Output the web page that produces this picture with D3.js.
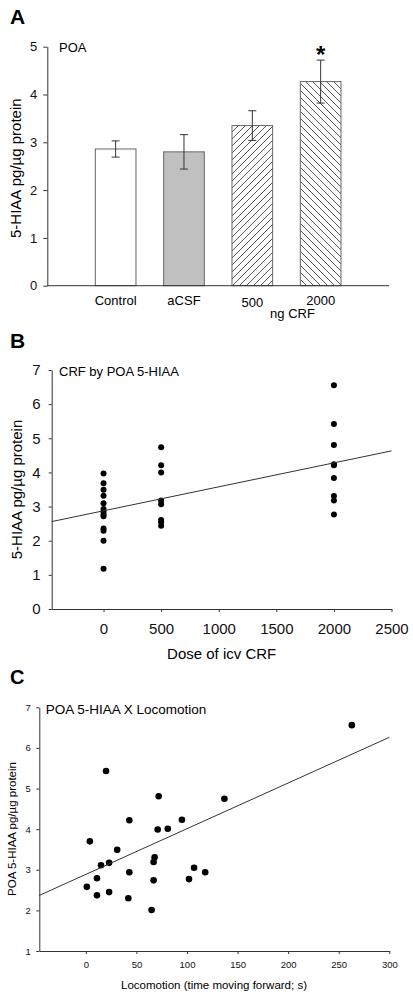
<!DOCTYPE html>
<html><head><meta charset="utf-8">
<script src="https://cdn.jsdelivr.net/npm/d3@7"></script>
<style>
body{margin:0;background:#fff;}
svg{display:block;font-family:"Liberation Sans",Arial,sans-serif;}
</style></head>
<body>
<script>
// ---------- Panel A data ----------
const categoriesA = ["Control", "aCSF", "500", "2000"];
const meansA = [2.86, 2.80, 3.35, 4.27];
const semA = [0.17, 0.36, 0.31, 0.45];
const yTicksA = [0, 1, 2, 3, 4, 5];
// ---------- Panel B data ----------
const doseB = [0,0,0,0,0,0,0,0,0,0,0,0,0, 500,500,500,500,500,500,500,500, 2000,2000,2000,2000,2000,2000,2000,2000,2000];
const hiaaB = [3.97,3.68,3.49,3.32,3.10,2.93,2.85,2.77,2.72,2.36,2.29,2.00,1.18, 4.74,4.21,4.00,3.18,3.07,2.61,2.54,2.44, 6.55,5.42,4.80,4.24,4.21,3.84,3.31,3.18,2.77];
const fitB = [2.876, 0.000702]; // intercept, slope
const xTicksB = [0, 500, 1000, 1500, 2000, 2500];
const yTicksB = [0, 1, 2, 3, 4, 5, 6, 7];
// ---------- Panel C data ----------
const locoC = [263, 20, 72, 137, 43, 95, 71, 81, 4, 31, 68, 67, 23, 15, 107, 43, 118, 11, 67, 102, 1, 23, 11, 42, 65];
const hiaaC = [6.56, 5.43, 4.81, 4.75, 4.22, 4.23, 3.99, 4.01, 3.70, 3.49, 3.31, 3.19, 3.17, 3.11, 3.05, 2.94, 2.94, 2.79, 2.74, 2.77, 2.58, 2.45, 2.37, 2.30, 2.01];
const fitC = [2.886, 0.01125];
const xTicksC = [0, 50, 100, 150, 200, 250, 300];
const yTicksC = [1, 2, 3, 4, 5, 6, 7];

const W = 413, H = 1000;
const svg = d3.select("body").append("svg").attr("width", W).attr("height", H);
const axisColor = "#333";
const fmt = d3.format("d");

const defs = svg.append("defs");
function hatch(id, dir) {
  const p = defs.append("pattern").attr("id", id).attr("patternUnits", "userSpaceOnUse")
    .attr("width", 7).attr("height", 7);
  p.append("rect").attr("width", 7).attr("height", 7).attr("fill", "#fff");
  const d = dir > 0 ? "M0,7 L7,0 M-1,1 L1,-1 M6,8 L8,6" : "M0,0 L7,7 M-1,6 L1,8 M6,-1 L8,1";
  p.append("path").attr("d", d).attr("stroke", "#444").attr("stroke-width", 0.9);
}
hatch("hatchF", 1);
hatch("hatchB", -1);

function styleAxis(g, fs) {
  g.attr("font-family", null).attr("font-size", null);
  g.selectAll("path.domain").attr("stroke", axisColor);
  g.selectAll(".tick line").attr("stroke", axisColor);
  g.selectAll(".tick text").attr("fill", "#111").attr("font-size", fs);
}

// ================= Panel A =================
{
  const x = d3.scaleLinear().domain([0, 5]).range([47.3, 389]);
  const y = d3.scaleLinear().domain([0, 5]).range([285.7, 46.7]);
  const g = svg.append("g");
  g.append("text").attr("x", 10).attr("y", 24).attr("font-size", 21).attr("font-weight", "bold").text("A");
  const fills = ["#fff", "#c0c0c0", "url(#hatchF)", "url(#hatchB)"];
  const bw = x(0.595) - x(0);
  g.selectAll("rect.bar").data(meansA).join("rect").attr("class", "bar")
    .attr("x", (d, i) => x(i + 1) - bw / 2).attr("width", bw)
    .attr("y", d => y(d)).attr("height", d => y(0) - y(d))
    .attr("fill", (d, i) => fills[i]).attr("stroke", "#666").attr("stroke-width", 1);
  // error bars
  const eb = g.selectAll("g.eb").data(meansA).join("g").attr("class", "eb");
  eb.append("line").attr("x1", (d, i) => x(i + 1)).attr("x2", (d, i) => x(i + 1))
    .attr("y1", (d, i) => y(d + semA[i])).attr("y2", (d, i) => y(d - semA[i]))
    .attr("stroke", "#333");
  [1, -1].forEach(s => {
    eb.append("line").attr("x1", (d, i) => x(i + 1) - 4).attr("x2", (d, i) => x(i + 1) + 4)
      .attr("y1", (d, i) => y(d + s * semA[i])).attr("y2", (d, i) => y(d + s * semA[i]))
      .attr("stroke", "#333");
  });
  // axes
  const ya = g.append("g").attr("transform", `translate(${x(0)},0)`)
    .call(d3.axisLeft(y).tickValues(yTicksA).tickFormat(fmt).tickSize(4).tickPadding(6).tickSizeOuter(0));
  styleAxis(ya, 13);
  g.append("line").attr("x1", x(0)).attr("x2", x(5)).attr("y1", y(0)).attr("y2", y(0)).attr("stroke", axisColor);
  // category labels
  const labY = [305, 305, 306.7, 305];
  g.selectAll("text.cat").data(categoriesA).join("text").attr("class", "cat")
    .attr("x", (d, i) => x(i + 1)).attr("y", (d, i) => labY[i])
    .attr("text-anchor", "middle").attr("font-size", 13).text(d => d);
  g.append("text").attr("x", (x(3) + x(4)) / 2 + 6).attr("y", 318).attr("text-anchor", "middle")
    .attr("font-size", 13).text("ng CRF");
  g.append("text").attr("x", 59).attr("y", 51.5).attr("font-size", 13).text("POA");
  g.append("text").attr("x", x(4)).attr("y", 63).attr("text-anchor", "middle")
    .attr("font-size", 24).attr("font-weight", "bold").text("*");
  g.append("text").attr("transform", `translate(16,${(y(0) + y(5)) / 2 + 2}) rotate(-90)`)
    .attr("text-anchor", "middle").attr("dy", "0.35em").attr("font-size", 15).text("5-HIAA pg/µg protein");
}

// ================= Panel B =================
{
  const x = d3.scaleLinear().domain([-450, 2500]).range([51.7, 391.5]);
  const y = d3.scaleLinear().domain([0, 7]).range([609, 370]);
  const g = svg.append("g");
  g.append("text").attr("x", 10).attr("y", 348).attr("font-size", 21).attr("font-weight", "bold").text("B");
  const xa = g.append("g").attr("transform", `translate(0,${y(0)})`)
    .call(d3.axisBottom(x).tickValues(xTicksB).tickFormat(fmt).tickSize(3).tickPadding(11).tickSizeOuter(0));
  styleAxis(xa, 15);
  const ya = g.append("g").attr("transform", `translate(${x(-450)},0)`)
    .call(d3.axisLeft(y).tickValues(yTicksB).tickFormat(fmt).tickSize(3).tickPadding(8).tickSizeOuter(0));
  styleAxis(ya, 15);
  g.selectAll("circle").data(doseB).join("circle")
    .attr("cx", d => x(d)).attr("cy", (d, i) => y(hiaaB[i])).attr("r", 3).attr("fill", "#000");
  const xd = x.domain();
  g.append("line").attr("x1", x(xd[0])).attr("x2", x(xd[1]))
    .attr("y1", y(fitB[0] + fitB[1] * xd[0])).attr("y2", y(fitB[0] + fitB[1] * xd[1]))
    .attr("stroke", "#333").attr("stroke-width", 1);
  g.append("text").attr("x", 59).attr("y", 375.5).attr("font-size", 13).text("CRF by POA 5-HIAA");
  g.append("text").attr("x", 221.7).attr("y", 658.5).attr("text-anchor", "middle").attr("font-size", 15).text("Dose of icv CRF");
  g.append("text").attr("transform", `translate(16.7,${(y(0) + y(7)) / 2}) rotate(-90)`)
    .attr("text-anchor", "middle").attr("dy", "0.35em").attr("font-size", 15).text("5-HIAA pg/µg protein");
}

// ================= Panel C =================
{
  const x = d3.scaleLinear().domain([-46, 300]).range([39.3, 389.3]);
  const y = d3.scaleLinear().domain([1, 7]).range([951, 707.3]);
  const g = svg.append("g");
  g.append("text").attr("x", 10).attr("y", 684).attr("font-size", 20).attr("font-weight", "bold").text("C");
  const xa = g.append("g").attr("transform", `translate(0,${y(1)})`)
    .call(d3.axisBottom(x).tickValues(xTicksC).tickFormat(fmt).tickSize(3).tickPadding(7.5).tickSizeOuter(0));
  styleAxis(xa, 9.5);
  const ya = g.append("g").attr("transform", `translate(${x(-46)},0)`)
    .call(d3.axisLeft(y).tickValues(yTicksC).tickFormat(fmt).tickSize(3).tickPadding(5.5).tickSizeOuter(0));
  styleAxis(ya, 9.5);
  g.selectAll("circle").data(locoC).join("circle")
    .attr("cx", d => x(d)).attr("cy", (d, i) => y(hiaaC[i])).attr("r", 3.3).attr("fill", "#000");
  const xd = x.domain();
  g.append("line").attr("x1", x(xd[0])).attr("x2", x(xd[1]))
    .attr("y1", y(fitC[0] + fitC[1] * xd[0])).attr("y2", y(fitC[0] + fitC[1] * xd[1]))
    .attr("stroke", "#333").attr("stroke-width", 1);
  g.append("text").attr("x", 45.7).attr("y", 714).attr("font-size", 13.5).text("POA 5-HIAA X Locomotion");
  g.append("text").attr("x", 214).attr("y", 989).attr("text-anchor", "middle").attr("font-size", 11.5)
    .text("Locomotion (time moving forward; s)");
  g.append("text").attr("transform", `translate(11.7,829) rotate(-90)`)
    .attr("text-anchor", "middle").attr("dy", "0.35em").attr("font-size", 11.5).text("POA 5-HIAA pg/µg protein");
}
</script>
</body></html>
